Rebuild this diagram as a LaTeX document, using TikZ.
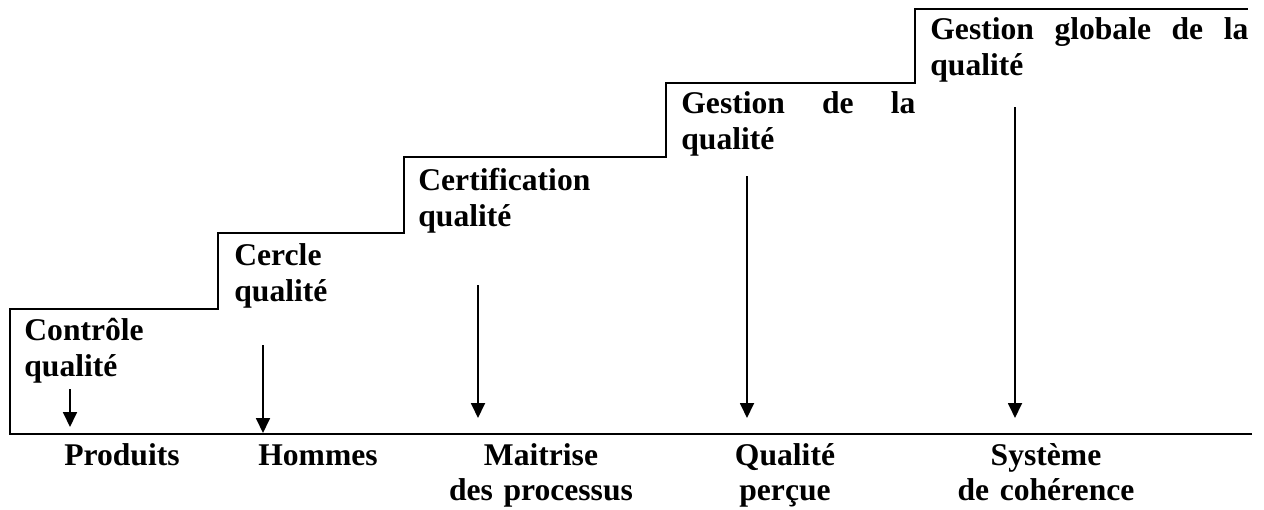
\documentclass[tikz,border=0pt]{standalone}
\usepackage{fontspec}
\setmainfont{Liberation Serif}
\usetikzlibrary{arrows.meta}

\tikzset{
  stair/.style={line width=1.4pt, line join=miter},
  down/.style={line width=0.9pt, -{Triangle[width=7pt,length=7.5pt]}},
  stagetext/.style={inner sep=0pt, anchor=base west, text width=#1, align=justify,
    font=\fontsize{15.8}{18}\selectfont\bfseries},
  stagetext/.default=120pt,
  focustext/.style={inner sep=0pt, anchor=base, text width=120pt, align=center,
    font=\fontsize{15.8}{17.5}\selectfont\bfseries}
}

\begin{document}
\begin{tikzpicture}[x=0.5pt, y=-0.5pt]

  \useasboundingbox (0,0) rectangle (1264,509);

  % the stairs and the ground line
  \draw[stair] (1252,434) -- (10,434) -- (10,309) -- (218,309) -- (218,233)
    -- (404,233) -- (404,157) -- (666,157) -- (666,83) -- (915,83)
    -- (915,9) -- (1248,9);

  % stages
  \node[stagetext] (controle) at (24,340) {Contrôle\\qualité};
  \node[stagetext] (cercle) at (234,265) {Cercle\\qualité};
  \node[stagetext] (certif) at (418,190) {Certification\\qualité};
  \node[stagetext=117pt] (gestion) at (681,113) {Gestion de la\linebreak qualité};
  \node[stagetext=159pt] (globale) at (930,39) {Gestion globale de la\linebreak qualité};

  % what each stage focuses on
  \node[focustext] (produits) at (122,465) {Produits};
  \node[focustext] (hommes) at (318,465) {Hommes};
  \node[focustext] (maitrise) at (541,465) {Maitrise\\des processus};
  \node[focustext] (percue) at (785,465) {Qualité\\perçue};
  \node[focustext] (systeme) at (1046,465) {Système\\de cohérence};

  % arrows
  \foreach \x/\ya/\yb [count=\i] in {70/389/427, 263/345/433, 478/285/418, 747/176/418, 1015/107/418} {
    \coordinate (top\i) at (\x,\ya);
    \coordinate (bot\i) at (\x,\yb);
    \draw[down] (top\i) -- (bot\i);
  }

\end{tikzpicture}
\end{document}
